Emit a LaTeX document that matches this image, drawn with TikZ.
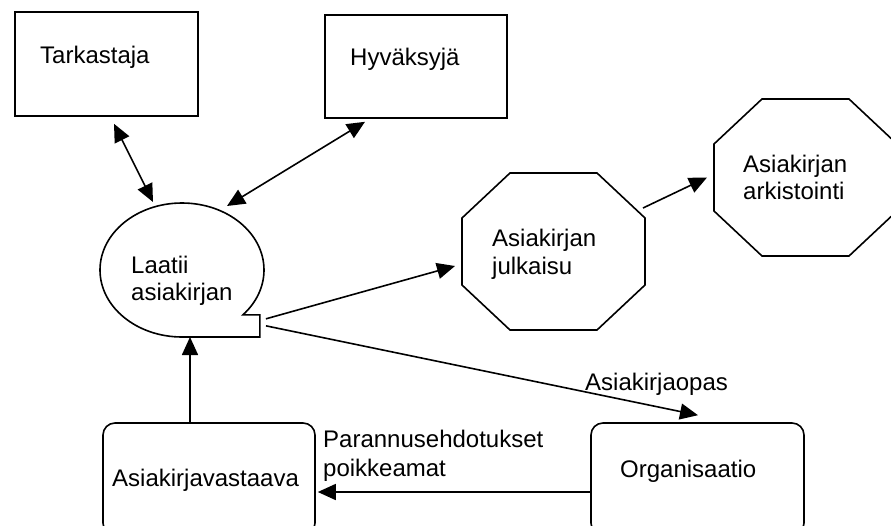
\documentclass[tikz,border=0pt]{standalone}
\usepackage{fontspec}
\setmainfont{Liberation Sans}
\usetikzlibrary{arrows.meta,shapes.geometric}

% Octagon outline drawn around a (hidden) rectangular node
\newcommand\drawoct[1]{%
  \draw[line] ([xshift=48pt]#1.north west) -- ([xshift=-48pt]#1.north east)
    -- ([yshift=-45pt]#1.north east) -- ([yshift=45pt]#1.south east)
    -- ([xshift=-48pt]#1.south east) -- ([xshift=48pt]#1.south west)
    -- ([yshift=45pt]#1.south west) -- ([yshift=-45pt]#1.north west) -- cycle;}

\begin{document}
\begin{tikzpicture}[x=1pt,y=-1pt,
  line/.style={line width=1.6pt},
  box/.style={line, draw, rectangle, inner sep=0pt, minimum height=104pt},
  rbox/.style={box, rounded corners=12pt, minimum height=112pt},
  hidden/.style={inner sep=0pt, outer sep=0pt},
  lbl/.style={anchor=base west, inner sep=0pt, font=\fontsize{24}{28}\selectfont},
  arr/.style={line, -{Triangle[length=18pt,width=16pt]}},
  darr/.style={line, {Triangle[length=18pt,width=16pt]}-{Triangle[length=18pt,width=16pt]}},
]
\fill[white] (0,0) rectangle (891,525);
\clip (0,0) rectangle (891,525);

% actors
\node[box, minimum width=183pt] (tark) at (106.5,64) {};
\node[lbl] (tarkt) at (40,63) {Tarkastaja};
\node[box, minimum width=182pt, minimum height=103pt] (hyv) at (416,66.5) {};
\node[lbl] (hyvt) at (350,65) {Hyväksyjä};

% speech bubble: the writer
\node[hidden, ellipse, minimum width=164pt, minimum height=134pt] (lat) at (182,270) {};
\draw[line] (lat.south) arc[start angle=270, end angle=-42, x radius=82pt, y radius=67pt]
  -- ++(17pt,0) coordinate (tail) |- (lat.south);
\node[lbl] (latt1) at (131,273) {Laatii};
\node[lbl] (latt2) at (131,300) {asiakirjan};

% octagons
\node[hidden, minimum width=183pt, minimum height=157pt] (jul) at (553.5,251.5) {};
\drawoct{jul}
\node[lbl] (jult1) at (492,246) {Asiakirjan};
\node[lbl] (jult2) at (492,274) {julkaisu};

\node[hidden, minimum width=183pt, minimum height=157pt] (ark) at (805.5,177.5) {};
\drawoct{ark}
\node[lbl] (arkt1) at (743,172) {Asiakirjan};
\node[lbl] (arkt2) at (743,199) {arkistointi};

% bottom boxes (their lower edges run past the page)
\node[rbox, minimum width=212pt] (vast) at (209,479) {};
\node[lbl] (vastt) at (112,486) {Asiakirjavastaava};
\node[rbox, minimum width=213pt] (org) at (697.5,479) {};
\node[lbl] (orgt) at (620,477) {Organisaatio};

% connectors
\draw[darr] ([xshift=7.5pt,yshift=-7pt]tark.south) -- ([xshift=-29pt,yshift=1pt]lat.north);
\draw[darr] ([xshift=-51pt,yshift=-3pt]hyv.south) -- ([xshift=45pt,yshift=-3pt]lat.north);
\draw[arr] ([xshift=6pt,yshift=-4pt]tail) -- ([xshift=-7pt,yshift=-14.5pt]jul.west);
\draw[arr] ([xshift=6pt,yshift=-11pt]tail) -- ([xshift=0.5pt,yshift=7pt]org.north);
\draw[arr] ([xshift=-2pt,yshift=-35pt]jul.north east) -- ([xshift=-7pt]ark.west);
\draw[arr] ([yshift=-13pt]org.west) -- ([xshift=2pt,yshift=-13pt]vast.east);
\draw[arr] ([xshift=-19pt]vast.north) -- ([xshift=8pt]lat.south);

% connector labels
\node[lbl] (opas) at (585,390) {Asiakirjaopas};
\node[lbl] (par1) at (323,447) {Parannusehdotukset};
\node[lbl] (par2) at (323,476) {poikkeamat};
\end{tikzpicture}
\end{document}
